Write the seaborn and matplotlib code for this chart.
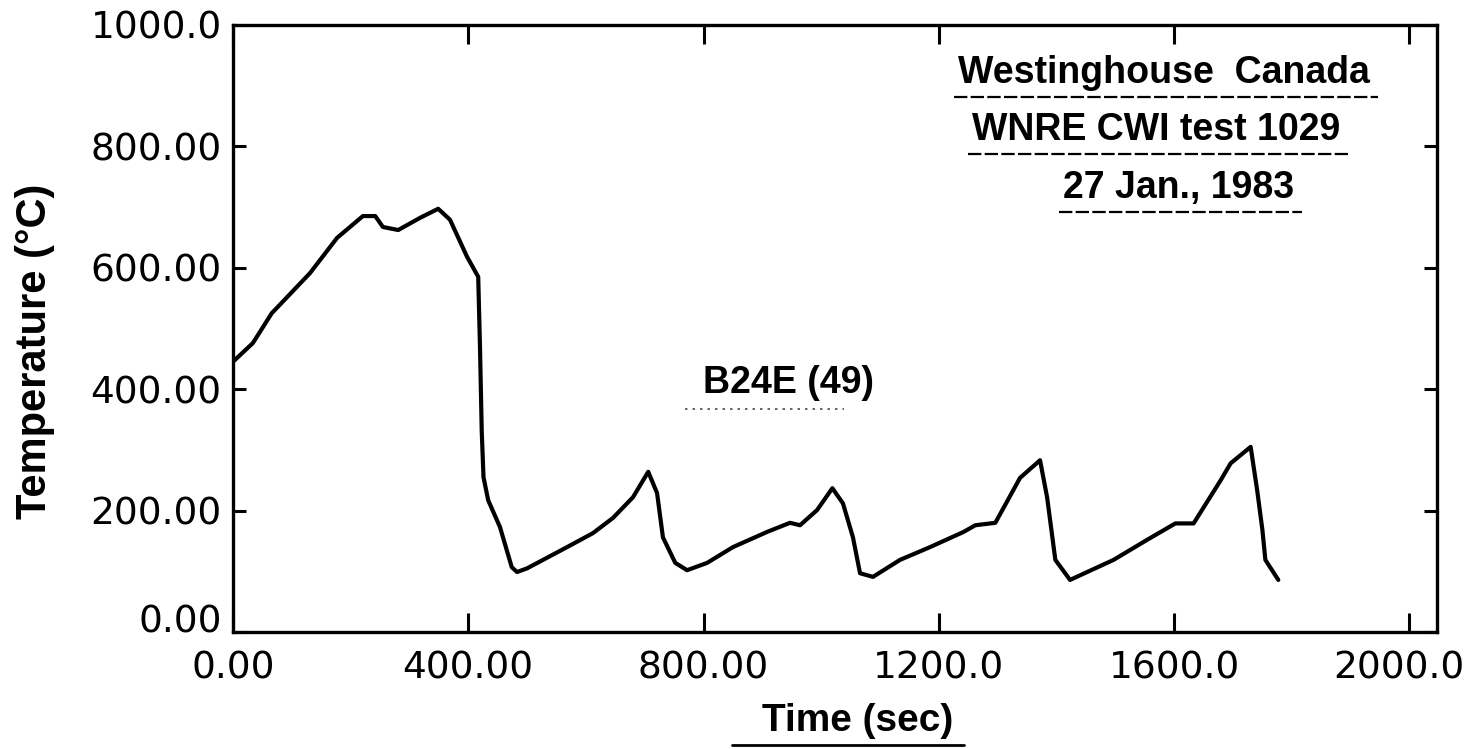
import numpy as np
import pandas as pd
import matplotlib
matplotlib.use("Agg")
import matplotlib.pyplot as plt
import matplotlib.transforms as mtransforms
import seaborn as sns

# Thermocouple B24E (49) trace, WNRE CWI test 1029
time_s = [0, 34, 66, 131, 177, 221, 242, 255, 281, 318, 349, 369, 398, 417,
          420, 423, 426, 434, 454, 474, 483, 500, 568, 612, 646, 680, 706,
          721, 731, 752, 772, 806, 850, 908, 947, 964, 993, 1019, 1037, 1054,
          1066, 1088, 1134, 1185, 1242, 1262, 1296, 1338, 1372, 1384, 1398,
          1423, 1497, 1554, 1602, 1633, 1679, 1696, 1730, 1741, 1750, 1755,
          1777]
temp_c = [445, 476, 525, 591, 649, 685, 685, 667, 662, 682, 697, 679, 618, 585,
          470, 330, 255, 217, 173, 107, 99, 105, 140, 163, 188, 222, 264,
          229, 156, 114, 102, 114, 140, 165, 180, 176, 201, 237, 212, 156,
          97, 91, 119, 140, 165, 176, 180, 254, 283, 222, 119,
          86, 119, 152, 179, 179, 250, 278, 305, 234, 168, 119,
          86]

x_ticks = [0, 400, 800, 1200, 1600, 2000]
x_tick_labels = ["0.00", "400.00", "800.00", "1200.0", "1600.0", "2000.0"]
y_ticks = [0, 200, 400, 600, 800, 1000]
y_tick_labels = ["0.00", "200.00", "400.00", "600.00", "800.00", "1000.0"]

title_lines = ["Westinghouse  Canada", "WNRE CWI test 1029", "27 Jan., 1983"]
trace_label = "B24E (49)"

df = pd.DataFrame({"Time (sec)": time_s, "Temperature (°C)": temp_c})

sns.set_theme(style="ticks")
plt.rcParams["font.family"] = ["DejaVu Sans"]

fig = plt.figure(figsize=(14.74, 7.49), dpi=100)
ax = fig.add_axes([0.158, 0.156, 0.817, 0.811])

sns.lineplot(data=df, x="Time (sec)", y="Temperature (°C)", color="black",
             linewidth=3.0, ax=ax, sort=False)
for ln in ax.get_lines():
    ln.set_solid_joinstyle("round")
    ln.set_solid_capstyle("round")

ax.set_xlim(0, 2047)
ax.set_ylim(0, 1000)
ax.set_xticks(x_ticks)
ax.set_xticklabels(x_tick_labels)
ax.set_yticks(y_ticks)
ax.set_yticklabels(y_tick_labels)

for s in ax.spines.values():
    s.set_linewidth(2.4)
    s.set_color("black")
    s.set_visible(True)

ax.tick_params(axis="both", direction="in", colors="black", width=2.2,
               labelsize=27)
ax.tick_params(axis="x", length=14, pad=13, top=True)
ax.tick_params(axis="y", length=9.5, pad=8, right=True)

# corner labels sit slightly inside the frame
for lbl in ax.get_yticklabels():
    if lbl.get_text() == "0.00":
        lbl.set_va("baseline")
for lbl in ax.get_xticklabels():
    if lbl.get_text() == "2000.0":
        lbl.set_transform(lbl.get_transform() + mtransforms.ScaledTranslation(
            -8 / 72, 0, fig.dpi_scale_trans))

bold = dict(family="Liberation Sans", weight="bold", color="black")
ax.set_xlabel("Time (sec)", fontsize=28, **bold)
ax.set_ylabel("Temperature (°C)", fontsize=30, **bold)
ax.xaxis.set_label_coords(0.519, -0.117)
ax.yaxis.set_label_coords(-0.148, 0.463)

title_y = [0.92, 0.826, 0.732]
title_x = [0.773, 0.767, 0.785]
texts = []
for line, tx, ty in zip(title_lines, title_x, title_y):
    texts.append(ax.text(tx, ty, line, transform=ax.transAxes, ha="center",
                         va="center", fontsize=27, **bold))
b_lbl = ax.text(0.461, 0.41, trace_label, transform=ax.transAxes, ha="center",
                va="center", fontsize=27, **bold)

fig.canvas.draw()
renderer = fig.canvas.get_renderer()
inv = fig.transFigure.inverted()


def underline(artist, style, lw, alpha=1.0, gap=4, extend=(0, 0)):
    bb = artist.get_window_extent(renderer)
    (x0, y0) = inv.transform((bb.x0 - extend[0], bb.y0 - gap))
    (x1, _) = inv.transform((bb.x1 + extend[1], bb.y0 - gap))
    fig.add_artist(plt.Line2D([x0, x1], [y0, y0], transform=fig.transFigure,
                              color="black", linewidth=lw, linestyle=style,
                              alpha=alpha))


for t in texts:
    underline(t, (0, (6, 1.5)), 1.6, gap=6, extend=(4, 8))
underline(b_lbl, (0, (1.5, 3)), 1.2, alpha=0.7, gap=8, extend=(18, -30))
underline(ax.xaxis.label, "-", 2.0, gap=6, extend=(30, 10))

fig.savefig("out.png", dpi=100, facecolor="white")
